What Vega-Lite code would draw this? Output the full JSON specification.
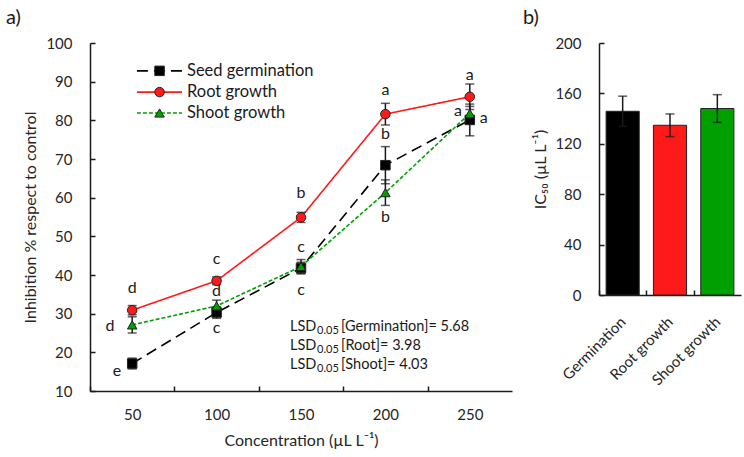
{
  "$schema": "https://vega.github.io/schema/vega-lite/v6.json",
  "padding": {"left": 5, "top": 8, "right": 5, "bottom": 5},
  "spacing": 10,
  "background": "white",
  "config": {
    "font": "Lato",
    "view": {"stroke": null},
    "axis": {
      "grid": false,
      "domainColor": "#1a1a1a",
      "domainWidth": 1.5,
      "tickColor": "#1a1a1a",
      "tickWidth": 1.5,
      "tickSize": -5,
      "labelFontSize": 15,
      "labelColor": "#262626",
      "titleFontSize": 16,
      "titleFontWeight": "normal",
      "titleColor": "#262626"
    },
    "title": {"fontSize": 20, "fontWeight": "normal", "color": "#1a1a1a", "anchor": "start", "frame": "bounds"}
  },
  "datasets": {
    "series": [
      {"series": "Seed germination", "conc": 50, "pct": 17.1, "err": 1.4},
      {"series": "Seed germination", "conc": 100, "pct": 30.3, "err": 1.5},
      {"series": "Seed germination", "conc": 150, "pct": 41.8, "err": 1.5},
      {"series": "Seed germination", "conc": 200, "pct": 68.4, "err": 4.8},
      {"series": "Seed germination", "conc": 250, "pct": 80.1, "err": 4.1},
      {"series": "Root growth", "conc": 50, "pct": 30.9, "err": 1.2},
      {"series": "Root growth", "conc": 100, "pct": 38.5, "err": 1.0},
      {"series": "Root growth", "conc": 150, "pct": 54.9, "err": 1.3},
      {"series": "Root growth", "conc": 200, "pct": 81.6, "err": 2.8},
      {"series": "Root growth", "conc": 250, "pct": 86.1, "err": 3.3},
      {"series": "Shoot growth", "conc": 50, "pct": 27.1, "err": 2.1},
      {"series": "Shoot growth", "conc": 100, "pct": 32.0, "err": 1.5},
      {"series": "Shoot growth", "conc": 150, "pct": 42.2, "err": 1.8},
      {"series": "Shoot growth", "conc": 200, "pct": 61.3, "err": 3.3},
      {"series": "Shoot growth", "conc": 250, "pct": 81.8, "err": 1.8}
    ],
    "letters": [
      {"conc": 50, "pct": 36.6, "letter": "d"},
      {"conc": 100, "pct": 44.1, "letter": "c"},
      {"conc": 150, "pct": 61.2, "letter": "b"},
      {"conc": 200, "pct": 87.8, "letter": "a"},
      {"conc": 250, "pct": 91.7, "letter": "a"},
      {"conc": 41, "pct": 15.3, "letter": "e"},
      {"conc": 100, "pct": 26.2, "letter": "c"},
      {"conc": 150, "pct": 36.1, "letter": "c"},
      {"conc": 200, "pct": 76.4, "letter": "b"},
      {"conc": 258.2, "pct": 80.5, "letter": "a"},
      {"conc": 36.8, "pct": 26.8, "letter": "d"},
      {"conc": 100, "pct": 35.9, "letter": "d"},
      {"conc": 150, "pct": 47.3, "letter": "c"},
      {"conc": 200, "pct": 55.1, "letter": "b"},
      {"conc": 243, "pct": 82.4, "letter": "a"}
    ],
    "legendLine": [
      {"series": "Seed germination", "conc": 52.8, "conc2": 79.5, "pct": 92.8},
      {"series": "Root growth", "conc": 52.8, "conc2": 79.5, "pct": 87.3},
      {"series": "Shoot growth", "conc": 52.8, "conc2": 79.5, "pct": 81.9}
    ],
    "legendPoint": [
      {"series": "Seed germination", "conc": 66.2, "pct": 92.8},
      {"series": "Root growth", "conc": 66.2, "pct": 87.3},
      {"series": "Shoot growth", "conc": 66.2, "pct": 81.9}
    ],
    "legendText": [
      {"series": "Seed germination", "conc": 79.5, "pct": 92.8},
      {"series": "Root growth", "conc": 79.5, "pct": 87.3},
      {"series": "Shoot growth", "conc": 79.5, "pct": 81.9}
    ],
    "lsd": [
      {"conc": 143.5, "pct": 26.6, "main": "LSD", "sub": "0.05", "rest": "[Germination]= 5.68"},
      {"conc": 143.5, "pct": 21.7, "main": "LSD", "sub": "0.05", "rest": "[Root]= 3.98"},
      {"conc": 143.5, "pct": 16.7, "main": "LSD", "sub": "0.05", "rest": "[Shoot]= 4.03"}
    ],
    "ic50": [
      {"cat": "Germination", "ic": 145.8, "err": 12},
      {"cat": "Root growth", "ic": 134.7, "err": 9},
      {"cat": "Shoot growth", "ic": 148.0, "err": 11}
    ]
  },
  "hconcat": [
    {
      "width": 422,
      "height": 348,
      "title": {"text": "a)", "dx": -17, "offset": 8},
      "encoding": {
        "x": {"field": "conc", "type": "quantitative", "title": "Concentration (µL L⁻¹)",
          "scale": {"domain": [25, 275], "nice": false, "zero": false},
          "axis": {"values": [25, 75, 125, 175, 225], "labelExpr": "datum.value + 25", "labelOffset": 42.2, "labelFlush": false, "labelOverlap": false, "labelPadding": 21, "titlePadding": 10}},
        "y": {"field": "pct", "type": "quantitative", "title": "Inhibition % respect to control",
          "scale": {"domain": [10, 100], "nice": false, "zero": false},
          "axis": {"values": [10, 20, 30, 40, 50, 60, 70, 80, 90, 100], "labelOverlap": false, "labelFlush": false, "labelPadding": 23, "titlePadding": 7}}
      },
      "layer": [
        {
          "data": {"name": "series"},
          "mark": {"type": "line", "strokeWidth": 1.6},
          "encoding": {
            "color": {"field": "series", "type": "nominal", "legend": null,
              "scale": {"domain": ["Seed germination", "Root growth", "Shoot growth"], "range": ["#000000", "#ff1a1a", "#00a000"]}},
            "strokeDash": {"field": "series", "type": "nominal", "legend": null,
              "scale": {"domain": ["Seed germination", "Root growth", "Shoot growth"], "range": [[11, 6], [1, 0], [4, 2]]}}
          }
        },
        {
          "data": {"name": "series"},
          "mark": {"type": "errorbar", "color": "#1a1a1a", "thickness": 1.5, "size": 9, "ticks": true},
          "encoding": {
            "yError": {"field": "err"}
          }
        },
        {
          "data": {"name": "series"},
          "mark": {"type": "point", "filled": true, "stroke": "#222222", "strokeWidth": 1, "opacity": 1, "size": 90},
          "encoding": {
            "shape": {"field": "series", "type": "nominal", "legend": null,
              "scale": {"domain": ["Seed germination", "Root growth", "Shoot growth"], "range": ["square", "circle", "triangle-up"]}},
            "fill": {"field": "series", "type": "nominal", "legend": null,
              "scale": {"domain": ["Seed germination", "Root growth", "Shoot growth"], "range": ["#000000", "#ff1a1a", "#00a000"]}}
          }
        },
        {
          "data": {"name": "letters"},
          "mark": {"type": "text", "fontSize": 16, "color": "#1a1a1a", "align": "center", "baseline": "middle"},
          "encoding": {
            "text": {"field": "letter"}
          }
        },
        {
          "data": {"name": "legendLine"},
          "mark": {"type": "rule", "strokeWidth": 1.6},
          "encoding": {
            "x2": {"field": "conc2"},
            "color": {"field": "series", "type": "nominal", "legend": null},
            "strokeDash": {"field": "series", "type": "nominal", "legend": null}
          }
        },
        {
          "data": {"name": "legendPoint"},
          "mark": {"type": "point", "filled": true, "stroke": "#222222", "strokeWidth": 1, "opacity": 1, "size": 90},
          "encoding": {
            "shape": {"field": "series", "type": "nominal", "legend": null},
            "fill": {"field": "series", "type": "nominal", "legend": null}
          }
        },
        {
          "data": {"name": "legendText"},
          "mark": {"type": "text", "fontSize": 16.5, "color": "#1a1a1a", "align": "left", "baseline": "middle", "dx": 5},
          "encoding": {
            "text": {"field": "series"}
          }
        },
        {
          "data": {"name": "lsd"},
          "mark": {"type": "text", "fontSize": 14.5, "color": "#1a1a1a", "align": "left", "baseline": "middle"},
          "encoding": {
            "text": {"field": "main"}
          }
        },
        {
          "data": {"name": "lsd"},
          "mark": {"type": "text", "fontSize": 11, "color": "#1a1a1a", "align": "left", "baseline": "middle", "dx": 27, "dy": 4},
          "encoding": {
            "text": {"field": "sub"}
          }
        },
        {
          "data": {"name": "lsd"},
          "mark": {"type": "text", "fontSize": 14.5, "color": "#1a1a1a", "align": "left", "baseline": "middle", "dx": 51},
          "encoding": {
            "text": {"field": "rest"}
          }
        }
      ]
    },
    {
      "width": 142,
      "height": 252,
      "title": {"text": "b)", "dx": -10, "offset": 8},
      "data": {"name": "ic50"},
      "encoding": {
        "x": {"field": "cat", "type": "nominal", "sort": null,
          "scale": {"paddingInner": 0.3, "paddingOuter": 0.15},
          "axis": {"title": null, "labelAngle": -45, "labelBaseline": "middle", "tickOffset": -23.67, "labelOffset": 23.67, "labelPadding": 29, "labelOverlap": false}},
        "y": {"field": "ic", "type": "quantitative", "title": "IC₅₀ (µL L⁻¹)",
          "scale": {"domain": [0, 200], "nice": false},
          "axis": {"values": [0, 40, 80, 120, 160, 200], "labelOverlap": false, "labelPadding": 23, "titlePadding": 6}}
      },
      "layer": [
        {
          "mark": {"type": "bar", "stroke": "#222222", "strokeWidth": 1},
          "encoding": {
            "fill": {"field": "cat", "type": "nominal", "legend": null, "sort": null,
              "scale": {"domain": ["Germination", "Root growth", "Shoot growth"], "range": ["#000000", "#ff0000", "#007000"]}}
          }
        },
        {
          "mark": {"type": "errorbar", "color": "#1a1a1a", "thickness": 1.5, "size": 9, "ticks": true},
          "encoding": {
            "yError": {"field": "err"}
          }
        }
      ]
    }
  ]
}
